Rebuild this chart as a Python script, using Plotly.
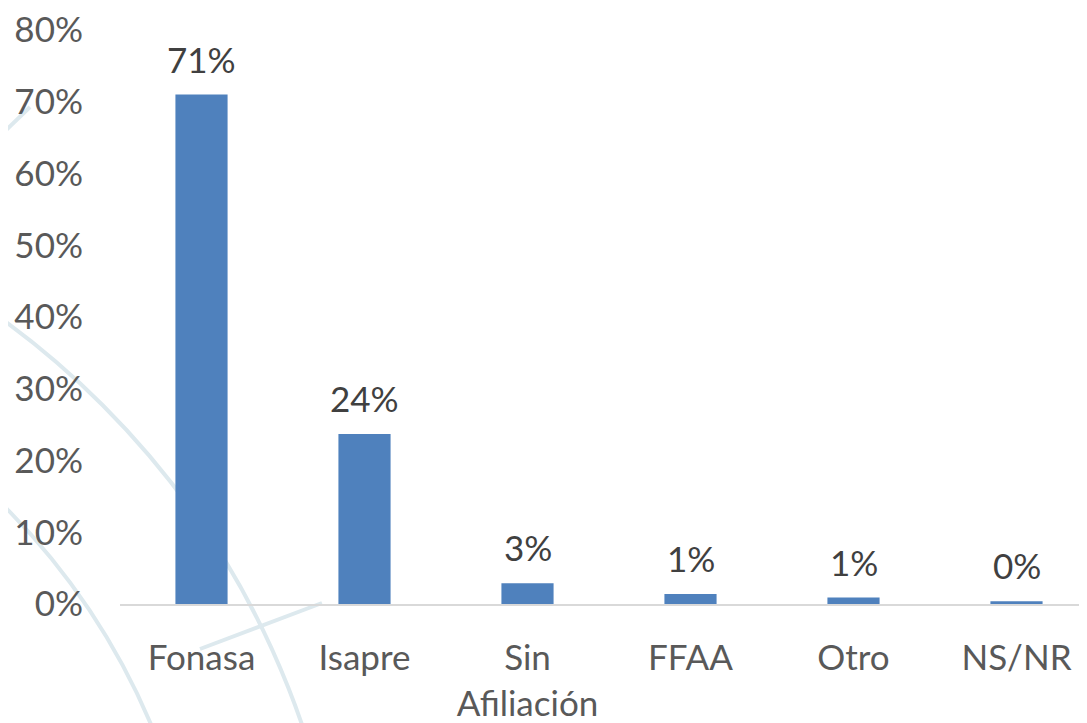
"""Distribución por sistema previsional de salud."""
import plotly.graph_objects as go

categories = ["Fonasa", "Isapre", "Sin<br>Afiliación", "FFAA", "Otro", "NS/NR"]
shares = [0.71, 0.237, 0.029, 0.014, 0.009, 0.004]
y_ticks = [0, 0.1, 0.2, 0.3, 0.4, 0.5, 0.6, 0.7, 0.8]

# page has an 8px body margin, so the figure is a bit smaller than the window
OFF = 8
W, H = 1087 - OFF, 723 - OFF
L, R, T, B = 120 - OFF, 0, 30 - OFF, 723 - 604
FONT = "Lato, 'Open Sans', sans-serif"
WM = "#dde9ee"


def px_x(p):
    return (p - OFF - L) / (W - L - R)


def px_y(p):
    return 1 - (p - OFF - T) / (H - T - B)


fig = go.Figure(go.Bar(x=categories, y=shares, width=0.32,
                       marker=dict(color="#4f81bd", line=dict(width=0))))

# data labels
for c, v in zip(categories, shares):
    fig.add_annotation(x=c, y=v, text=f"{v:.0%}", showarrow=False,
                       yanchor="bottom", yshift=13,
                       font=dict(family=FONT, size=35, color="#404040"))

# faint watermark arcs behind the chart
shapes = []
for cx, cy, r in [(-487, 995, 834), (-487, 995, 693)]:
    shapes.append(dict(type="circle", xref="paper", yref="paper", layer="below",
                       x0=px_x(cx - r), x1=px_x(cx + r),
                       y0=px_y(cy + r), y1=px_y(cy - r),
                       line=dict(color=WM, width=4)))
shapes.append(dict(type="line", xref="paper", yref="paper", layer="below",
                   x0=px_x(200), y0=px_y(649), x1=px_x(322), y1=px_y(603),
                   line=dict(color=WM, width=4)))
shapes.append(dict(type="line", xref="paper", yref="paper", layer="below",
                   x0=px_x(0), y0=px_y(136), x1=px_x(30), y1=px_y(107),
                   line=dict(color=WM, width=4)))

fig.update_layout(
    width=W, height=H,
    margin=dict(l=L, r=R, t=T, b=B),
    paper_bgcolor="white", plot_bgcolor="rgba(0,0,0,0)",
    showlegend=False,
    shapes=shapes,
    font=dict(family=FONT, size=35, color="#595959"),
    xaxis=dict(range=[-0.5, -0.5 + (W - L - R) / 163], showline=True,
               linecolor="#d9d9d9", linewidth=2, showgrid=False, ticks="",
               ticklabelstandoff=22, tickfont=dict(size=35, color="#595959")),
    yaxis=dict(range=[0, 0.8], tickvals=y_ticks, tickformat=".0%",
               showgrid=False, zeroline=False, showline=False, ticks="",
               ticklabelstandoff=36, ticklabeloverflow="allow",
               tickfont=dict(size=35, color="#595959")),
)

fig.write_html("out.html")
